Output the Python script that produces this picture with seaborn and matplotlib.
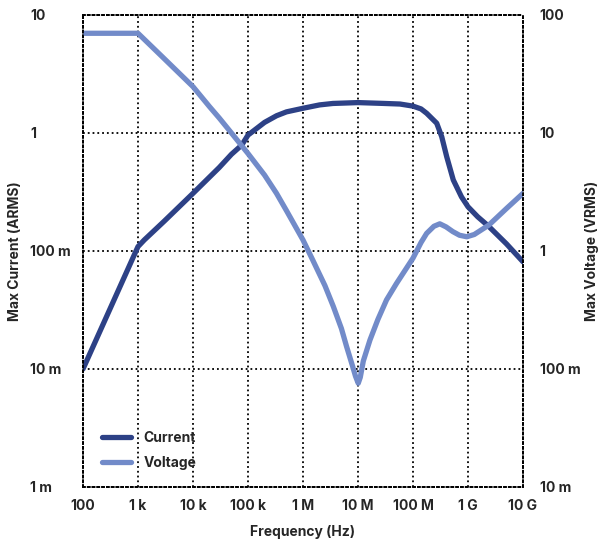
import numpy as np
import pandas as pd
import matplotlib
matplotlib.use("Agg")
import matplotlib.pyplot as plt
import seaborn as sns

# values (Hz, A)
current_freq = [100, 1e3, 1.3e3, 3e3, 1e4, 3e4, 5e4, 7.7e4, 1e5, 2e5, 3.3e5, 5e5, 1e6, 2e6,
                3.5e6, 1e7, 3e7, 5.8e7, 1e8, 1.4e8, 1.77e8, 2.2e8, 2.7e8, 3.33e8, 4.1e8,
                5.4e8, 7.6e8, 1e9, 1.5e9, 2.34e9, 5e9, 1e10]
current_amps = [0.01, 0.109, 0.124, 0.179, 0.308, 0.51, 0.66, 0.79, 0.96, 1.23, 1.40, 1.51,
                1.62, 1.73, 1.78, 1.81, 1.78, 1.76, 1.69, 1.60, 1.47, 1.33, 1.21, 0.93, 0.63,
                0.40, 0.288, 0.237, 0.195, 0.163, 0.115, 0.081]

# values (Hz, V)
voltage_freq = [100, 1e3, 2.87e3, 1e4, 2e4, 3e4, 5e4, 1e5, 2e5, 3.3e5, 5e5, 1e6, 1.5e6,
                2.5e6, 3.55e6, 5e6, 6.2e6, 8e6, 9e6, 1.01e7, 1.1e7, 1.25e7, 1.65e7, 2.3e7,
                3.3e7, 5e7, 1e8, 1.4e8, 1.77e8, 2.4e8, 3.07e8, 4e8, 5.3e8, 7e8, 9.5e8,
                1.3e9, 2.4e9, 5e9, 1e10]
voltage_volts = [70, 70, 43.5, 24.7, 16.7, 13.4, 10.0, 6.7, 4.4, 3.08, 2.2, 1.24, 0.84,
                 0.51, 0.34, 0.22, 0.155, 0.105, 0.087, 0.0757, 0.085, 0.117, 0.176, 0.263,
                 0.385, 0.53, 0.87, 1.18, 1.41, 1.62, 1.70, 1.60, 1.46, 1.36, 1.32,
                 1.38, 1.66, 2.29, 3.08]

x_ticks = [1e2, 1e3, 1e4, 1e5, 1e6, 1e7, 1e8, 1e9, 1e10]
x_labels = ["100", "1 k", "10 k", "100 k", "1 M", "10 M", "100 M", "1 G", "10 G"]
left_ticks = [1e-3, 1e-2, 1e-1, 1, 10]
left_labels = ["1 m", "10 m", "100 m", "1", "10"]
right_ticks = [1e-2, 1e-1, 1, 10, 100]
right_labels = ["10 m", "100 m", "1", "10", "100"]

sns.set_style("white")
plt.rcParams["font.family"] = ["Inter", "DejaVu Sans"]
plt.rcParams["font.weight"] = "bold"
plt.rcParams["axes.labelweight"] = "bold"

cur = pd.DataFrame({"freq": current_freq, "val": current_amps})
vol = pd.DataFrame({"freq": voltage_freq, "val": voltage_volts})

c_cur = "#2d4186"
c_vol = "#728bc9"

fig = plt.figure(figsize=(6.05, 5.39), dpi=100)
ax = fig.add_axes([83 / 605, 1 - 487 / 539, 440 / 605, 472 / 539])
ax2 = ax.twinx()

sns.lineplot(data=cur, x="freq", y="val", ax=ax, color=c_cur, linewidth=3.8,
             label="Current", legend=False)
sns.lineplot(data=vol, x="freq", y="val", ax=ax2, color=c_vol, linewidth=3.8,
             label="Voltage", legend=False)

ax.set_xscale("log")
ax.set_yscale("log")
ax2.set_yscale("log")
ax.set_xlim(1e2, 1e10)
ax.set_ylim(1e-3, 10)
ax2.set_ylim(1e-2, 100)

ax.set_xticks(x_ticks)
ax.set_xticklabels(x_labels)
ax.set_yticks(left_ticks)
ax.set_yticklabels(left_labels)
ax2.set_yticks(right_ticks)
ax2.set_yticklabels(right_labels)
ax.minorticks_off()
ax2.minorticks_off()

ax.tick_params(axis="y", length=0, pad=38, labelsize=10)
ax.tick_params(axis="x", length=0, pad=9, labelsize=10)
ax2.tick_params(axis="y", length=0, pad=12, labelsize=10)
for t in ax.get_yticklabels():
    t.set_horizontalalignment("left")

ax.grid(True, which="major", color="black", linestyle=":", linewidth=1.3)
for a in (ax, ax2):
    for s in a.spines.values():
        s.set_linestyle(":")
        s.set_linewidth(1.3)
        s.set_color("black")

ax.set_xlabel("Frequency (Hz)", fontsize=10, labelpad=8)
ax.set_ylabel("Max Current (ARMS)", fontsize=10)
ax2.set_ylabel("Max Voltage (VRMS)", fontsize=10, rotation=90)
ax.yaxis.set_label_coords(-0.138, 0.5)
ax2.yaxis.set_label_coords(1.14, 0.5)

h1, l1 = ax.get_legend_handles_labels()
h2, l2 = ax2.get_legend_handles_labels()
ax2.legend(h1 + h2, l1 + l2, loc="lower left", bbox_to_anchor=(0.015, 0.01),
           frameon=False, fontsize=10, handlelength=2.1, handletextpad=0.9,
           labelspacing=0.8)

fig.savefig("out.png", dpi=100)
